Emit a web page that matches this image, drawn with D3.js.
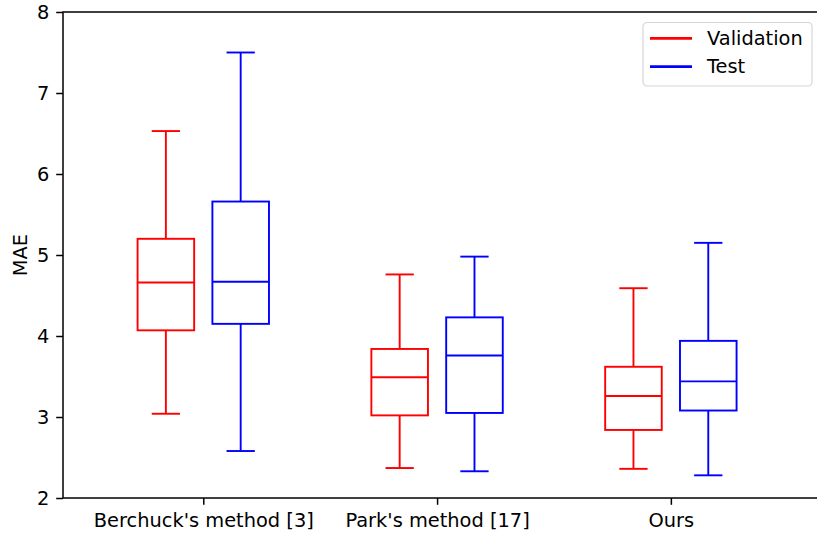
<!DOCTYPE html>
<html>
<head>
<meta charset="utf-8">
<script src="https://cdn.jsdelivr.net/npm/d3@7"></script>
<style>
  html, body { margin: 0; padding: 0; background: #fff; overflow: hidden; }
  svg { display: block; font-family: "DejaVu Sans", sans-serif; }
  svg text { font-size: 19.4px; font-family: "DejaVu Sans", sans-serif; fill: #000; }
</style>
</head>
<body>
<svg id="chart" width="817" height="535"></svg>
<script>
// Methods compared on the x axis
const categories = ["Berchuck's method [3]", "Park's method [17]", "Ours"];

// Five-number summaries per method: [lower whisker, Q1, median, Q3, upper whisker]
const validationStats = [
  [3.04, 4.07, 4.66, 5.20, 6.53],
  [2.37, 3.02, 3.49, 3.84, 4.76],
  [2.36, 2.84, 3.26, 3.62, 4.59]
];
const testStats = [
  [2.58, 4.15, 4.67, 5.66, 7.50],
  [2.33, 3.05, 3.76, 4.23, 4.98],
  [2.28, 3.08, 3.44, 3.94, 5.15]
];

const seriesNames = ["Validation", "Test"];
const seriesColors = ["#ff0000", "#0000ff"];
const yTicks = [2, 3, 4, 5, 6, 7, 8];

const svg = d3.select("#chart");
const W = 817, H = 535;
// plot area; the right spine sits just past the canvas edge
const plot = { left: 63, right: 820.5, top: 12, bottom: 498 };

const x = d3.scaleLinear().domain([0.4, 3.64]).range([plot.left, plot.right]);
const y = d3.scaleLinear().domain([2, 8]).range([plot.bottom, plot.top]);

const offset = 0.16;      // horizontal shift of each series from the group centre
const boxW = 0.242;       // box width in category units
const capW = boxW / 2;    // whisker cap width

const series = [validationStats, testStats];

series.forEach((stats, si) => {
  const color = seriesColors[si];
  const dx = si === 0 ? -offset : offset;
  const g = svg.append("g").attr("fill", "none").attr("stroke", color).attr("stroke-width", 1.9);
  stats.forEach((s, ci) => {
    const cx = ci + 1 + dx;
    const [lo, q1, med, q3, hi] = s;
    // whiskers
    g.append("line").attr("x1", x(cx)).attr("x2", x(cx)).attr("y1", y(q1)).attr("y2", y(lo));
    g.append("line").attr("x1", x(cx)).attr("x2", x(cx)).attr("y1", y(q3)).attr("y2", y(hi));
    // caps
    g.append("line").attr("x1", x(cx - capW / 2)).attr("x2", x(cx + capW / 2)).attr("y1", y(lo)).attr("y2", y(lo));
    g.append("line").attr("x1", x(cx - capW / 2)).attr("x2", x(cx + capW / 2)).attr("y1", y(hi)).attr("y2", y(hi));
    // box
    g.append("rect")
      .attr("x", x(cx - boxW / 2)).attr("y", y(q3))
      .attr("width", x(cx + boxW / 2) - x(cx - boxW / 2))
      .attr("height", y(q1) - y(q3));
    // median
    g.append("line").attr("x1", x(cx - boxW / 2)).attr("x2", x(cx + boxW / 2)).attr("y1", y(med)).attr("y2", y(med));
  });
});

// Axes
const yAxis = d3.axisLeft(y).tickValues(yTicks).tickFormat(d3.format("d")).tickSize(6.8).tickPadding(6.8);
const xAxis = d3.axisBottom(x).tickValues([1, 2, 3]).tickFormat((d) => categories[d - 1]).tickSize(6.8).tickPadding(8);

const gy = svg.append("g").attr("transform", `translate(${plot.left},0)`).call(yAxis);
const gx = svg.append("g").attr("transform", `translate(0,${plot.bottom})`).call(xAxis);
[gx, gy].forEach(g => {
  g.attr("font-size", null).attr("font-family", null);
  g.select(".domain").remove();
  g.selectAll(".tick line").attr("stroke", "#000").attr("stroke-width", 1.5);
  g.selectAll(".tick text").attr("fill", "#000");
});

// Frame
svg.append("rect")
  .attr("x", plot.left).attr("y", plot.top)
  .attr("width", plot.right - plot.left)
  .attr("height", plot.bottom - plot.top)
  .attr("fill", "none").attr("stroke", "#000").attr("stroke-width", 1.5);

// Y label
svg.append("text")
  .attr("transform", `translate(26.7,${(plot.top + plot.bottom) / 2}) rotate(-90)`)
  .attr("text-anchor", "middle")
  .text("MAE");

// Legend
const lg = svg.append("g").attr("transform", "translate(643,22.5)");
lg.append("rect")
  .attr("width", 169).attr("height", 63.5).attr("rx", 4)
  .attr("fill", "#fff").attr("fill-opacity", 0.8)
  .attr("stroke", "#d6d6d6").attr("stroke-width", 1.2);
seriesNames.forEach((name, i) => {
  const yy = 15.8 + i * 28.4;
  lg.append("line").attr("x1", 7).attr("x2", 49).attr("y1", yy).attr("y2", yy)
    .attr("stroke", seriesColors[i]).attr("stroke-width", 2.8);
  lg.append("text").attr("x", 64).attr("y", yy).attr("dy", "0.35em").text(name);
});
</script>
</body>
</html>
